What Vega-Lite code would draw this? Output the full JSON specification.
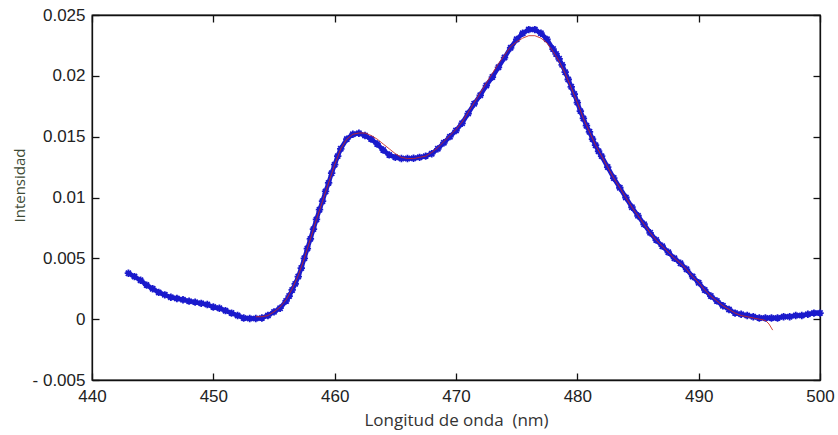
{
  "$schema": "https://vega.github.io/schema/vega-lite/v6.json",
  "width": 728,
  "height": 365,
  "autosize": {"type": "none"},
  "padding": {"left": 92, "top": 15, "right": 18, "bottom": 55},
  "background": "white",
  "view": {"stroke": "#111111", "strokeWidth": 1.3},
  "config": {
    "view": {"stroke": "#111111", "strokeWidth": 1.3},
    "axis": {
      "grid": false,
      "domain": true,
      "domainColor": "#111111",
      "domainWidth": 1.3,
      "ticks": true,
      "tickColor": "#111111",
      "tickWidth": 1.3,
      "tickSize": -7,
      "labelFlush": false,
      "labelOverlap": false,
      "labelFont": "Liberation Sans",
      "labelFontSize": 17,
      "labelColor": "#222222",
      "titleFont": "Open Sans",
      "titleFontWeight": "normal",
      "titleFontSize": 15
    }
  },
  "datasets": {
    "medido": [
      {"x": 443.0, "y": 0.00378}, {"x": 443.5, "y": 0.0035}, {"x": 444.0, "y": 0.0032}, {"x": 444.5, "y": 0.0028},
      {"x": 445.0, "y": 0.0025}, {"x": 445.5, "y": 0.0022}, {"x": 446.0, "y": 0.002}, {"x": 446.5, "y": 0.0018},
      {"x": 447.0, "y": 0.0017}, {"x": 447.5, "y": 0.0016}, {"x": 448.0, "y": 0.00148}, {"x": 448.5, "y": 0.0014},
      {"x": 449.0, "y": 0.0013}, {"x": 449.5, "y": 0.0012}, {"x": 450.0, "y": 0.001}, {"x": 450.5, "y": 0.0009},
      {"x": 451.0, "y": 0.0007}, {"x": 451.5, "y": 0.0005}, {"x": 452.0, "y": 0.0003}, {"x": 452.5, "y": 0.0001},
      {"x": 453.0, "y": 0.00005}, {"x": 453.5, "y": 0.00005}, {"x": 454.0, "y": 0.0001}, {"x": 454.5, "y": 0.0003},
      {"x": 455.0, "y": 0.0006}, {"x": 455.5, "y": 0.0009}, {"x": 456.0, "y": 0.0015}, {"x": 456.25, "y": 0.0019},
      {"x": 456.5, "y": 0.0024}, {"x": 456.75, "y": 0.0029}, {"x": 457.0, "y": 0.0035}, {"x": 457.25, "y": 0.0042},
      {"x": 457.5, "y": 0.005}, {"x": 457.75, "y": 0.0058}, {"x": 458.0, "y": 0.0066}, {"x": 458.25, "y": 0.0074},
      {"x": 458.5, "y": 0.0082}, {"x": 458.75, "y": 0.009}, {"x": 459.0, "y": 0.0097}, {"x": 459.25, "y": 0.0105},
      {"x": 459.5, "y": 0.0112}, {"x": 459.75, "y": 0.012}, {"x": 460.0, "y": 0.0127}, {"x": 460.25, "y": 0.0134},
      {"x": 460.5, "y": 0.014}, {"x": 461.0, "y": 0.0148}, {"x": 461.5, "y": 0.0152}, {"x": 462.0, "y": 0.01528},
      {"x": 462.5, "y": 0.0151}, {"x": 463.0, "y": 0.0148}, {"x": 463.5, "y": 0.0144}, {"x": 464.0, "y": 0.0139},
      {"x": 464.5, "y": 0.0135}, {"x": 465.0, "y": 0.0133}, {"x": 465.5, "y": 0.0132}, {"x": 466.0, "y": 0.0132},
      {"x": 466.5, "y": 0.01322}, {"x": 467.0, "y": 0.0133}, {"x": 467.5, "y": 0.0134}, {"x": 468.0, "y": 0.0136},
      {"x": 468.5, "y": 0.014}, {"x": 469.0, "y": 0.0145}, {"x": 469.5, "y": 0.015}, {"x": 470.0, "y": 0.0155},
      {"x": 470.5, "y": 0.0161}, {"x": 471.0, "y": 0.0169}, {"x": 471.5, "y": 0.0177}, {"x": 472.0, "y": 0.0184},
      {"x": 472.5, "y": 0.0192}, {"x": 473.0, "y": 0.0199}, {"x": 473.5, "y": 0.0207}, {"x": 474.0, "y": 0.0215},
      {"x": 474.5, "y": 0.0223}, {"x": 475.0, "y": 0.023}, {"x": 475.5, "y": 0.0235}, {"x": 476.0, "y": 0.0238},
      {"x": 476.5, "y": 0.0238}, {"x": 477.0, "y": 0.0235}, {"x": 477.5, "y": 0.023}, {"x": 478.0, "y": 0.0222},
      {"x": 478.25, "y": 0.0218}, {"x": 478.5, "y": 0.0214}, {"x": 478.75, "y": 0.0209}, {"x": 479.0, "y": 0.0203},
      {"x": 479.25, "y": 0.0197}, {"x": 479.5, "y": 0.0191}, {"x": 479.75, "y": 0.0185}, {"x": 480.0, "y": 0.0178},
      {"x": 480.25, "y": 0.0171}, {"x": 480.5, "y": 0.0165}, {"x": 480.75, "y": 0.0159}, {"x": 481.0, "y": 0.0154},
      {"x": 481.25, "y": 0.0148}, {"x": 481.5, "y": 0.0143}, {"x": 481.75, "y": 0.0138}, {"x": 482.0, "y": 0.0134},
      {"x": 482.5, "y": 0.0125}, {"x": 483.0, "y": 0.0116}, {"x": 483.5, "y": 0.0108}, {"x": 484.0, "y": 0.01},
      {"x": 484.5, "y": 0.0092}, {"x": 485.0, "y": 0.0085}, {"x": 485.5, "y": 0.0078}, {"x": 486.0, "y": 0.0071},
      {"x": 486.5, "y": 0.0065}, {"x": 487.0, "y": 0.006}, {"x": 487.5, "y": 0.0055}, {"x": 488.0, "y": 0.005},
      {"x": 488.5, "y": 0.0046}, {"x": 489.0, "y": 0.0041}, {"x": 489.5, "y": 0.0035}, {"x": 490.0, "y": 0.003},
      {"x": 490.5, "y": 0.0024}, {"x": 491.0, "y": 0.0019}, {"x": 491.5, "y": 0.0015}, {"x": 492.0, "y": 0.0011},
      {"x": 492.5, "y": 0.0008}, {"x": 493.0, "y": 0.0005}, {"x": 493.5, "y": 0.0004}, {"x": 494.0, "y": 0.0003},
      {"x": 494.5, "y": 0.0002}, {"x": 495.0, "y": 0.0001}, {"x": 495.5, "y": 0.0001}, {"x": 496.0, "y": 0.0001},
      {"x": 496.5, "y": 0.0001}, {"x": 497.0, "y": 0.0002}, {"x": 497.5, "y": 0.0002}, {"x": 498.0, "y": 0.0003},
      {"x": 498.5, "y": 0.0003}, {"x": 499.0, "y": 0.0004}, {"x": 499.5, "y": 0.0005}, {"x": 500.0, "y": 0.0005}
    ],
    "ajuste": [
      {"x": 453.5, "y": 0.0002}, {"x": 454.0, "y": 0.0002}, {"x": 454.5, "y": 0.0003}, {"x": 455.0, "y": 0.0006},
      {"x": 455.5, "y": 0.001}, {"x": 456.0, "y": 0.0016}, {"x": 456.5, "y": 0.0025}, {"x": 457.0, "y": 0.0036},
      {"x": 457.5, "y": 0.005}, {"x": 458.0, "y": 0.0066}, {"x": 458.5, "y": 0.0082}, {"x": 459.0, "y": 0.0097},
      {"x": 459.5, "y": 0.0112}, {"x": 460.0, "y": 0.0127}, {"x": 460.5, "y": 0.014}, {"x": 461.0, "y": 0.0148},
      {"x": 461.5, "y": 0.0152}, {"x": 462.0, "y": 0.0153}, {"x": 462.5, "y": 0.0153}, {"x": 463.0, "y": 0.0151},
      {"x": 463.5, "y": 0.0148}, {"x": 464.0, "y": 0.0144}, {"x": 464.5, "y": 0.014}, {"x": 465.0, "y": 0.0136},
      {"x": 465.5, "y": 0.0133}, {"x": 466.0, "y": 0.0132}, {"x": 466.5, "y": 0.0132}, {"x": 467.0, "y": 0.0133},
      {"x": 467.5, "y": 0.0134}, {"x": 468.0, "y": 0.0137}, {"x": 468.5, "y": 0.0141}, {"x": 469.0, "y": 0.0146},
      {"x": 469.5, "y": 0.0151}, {"x": 470.0, "y": 0.0156}, {"x": 470.5, "y": 0.0162}, {"x": 471.0, "y": 0.017},
      {"x": 471.5, "y": 0.0178}, {"x": 472.0, "y": 0.0186}, {"x": 472.5, "y": 0.0194}, {"x": 473.0, "y": 0.0202},
      {"x": 473.5, "y": 0.021}, {"x": 474.0, "y": 0.0217}, {"x": 474.5, "y": 0.0224}, {"x": 475.0, "y": 0.0228},
      {"x": 475.5, "y": 0.0231}, {"x": 476.0, "y": 0.0233}, {"x": 476.5, "y": 0.0233}, {"x": 477.0, "y": 0.0231},
      {"x": 477.5, "y": 0.0227}, {"x": 478.0, "y": 0.022}, {"x": 478.5, "y": 0.0212}, {"x": 479.0, "y": 0.0202},
      {"x": 479.5, "y": 0.019}, {"x": 480.0, "y": 0.0178}, {"x": 480.5, "y": 0.0165}, {"x": 481.0, "y": 0.0154},
      {"x": 481.5, "y": 0.0143}, {"x": 482.0, "y": 0.0134}, {"x": 482.5, "y": 0.0125}, {"x": 483.0, "y": 0.0116},
      {"x": 483.5, "y": 0.0108}, {"x": 484.0, "y": 0.01}, {"x": 484.5, "y": 0.0092}, {"x": 485.0, "y": 0.0085},
      {"x": 485.5, "y": 0.0078}, {"x": 486.0, "y": 0.0071}, {"x": 486.5, "y": 0.0065}, {"x": 487.0, "y": 0.006},
      {"x": 487.5, "y": 0.0055}, {"x": 488.0, "y": 0.005}, {"x": 488.5, "y": 0.0046}, {"x": 489.0, "y": 0.0041},
      {"x": 489.5, "y": 0.0035}, {"x": 490.0, "y": 0.003}, {"x": 490.5, "y": 0.0024}, {"x": 491.0, "y": 0.0019},
      {"x": 491.5, "y": 0.0015}, {"x": 492.0, "y": 0.0011}, {"x": 492.5, "y": 0.0008}, {"x": 493.0, "y": 0.0005},
      {"x": 493.5, "y": 0.0003}, {"x": 494.0, "y": 0.0002}, {"x": 494.5, "y": 0.0001}, {"x": 495.0, "y": 0.0},
      {"x": 495.5, "y": -0.0001}, {"x": 495.8, "y": -0.0004}, {"x": 496.1, "y": -0.0009}
    ]
  },
  "resolve": {"axis": {"x": "independent", "y": "independent"}},
  "layer": [
    {
      "data": {"name": "medido"},
      "mark": {"type": "line", "color": "#1a1acc", "strokeWidth": 4.5},
      "encoding": {
        "x": {
          "field": "x", "type": "quantitative",
          "scale": {"domain": [440, 500], "nice": false, "zero": false},
          "axis": {
            "orient": "bottom",
            "values": [440, 450, 460, 470, 480, 490, 500],
            "labelPadding": 15,
            "title": "Longitud de onda\u00a0 (nm)",
            "titleColor": "#333333",
            "titleFontSize": 17,
            "titlePadding": 8
          }
        },
        "y": {
          "field": "y", "type": "quantitative",
          "scale": {"domain": [-0.005, 0.025], "nice": false, "zero": false},
          "axis": {
            "orient": "left",
            "values": [-0.005, 0, 0.005, 0.01, 0.015, 0.02, 0.025],
            "labelExpr": "datum.value < 0 ? '- ' + format(-datum.value, '.3~f') : format(datum.value, '.3~f')",
            "labelPadding": 14,
            "title": "Intensidad",
            "titleColor": "#3d4a35",
            "titleY": 170,
            "titlePadding": 5
          }
        }
      }
    },
    {
      "data": {"name": "medido"},
      "mark": {
        "type": "point",
        "shape": "M-1,0L1,0M0,-1L0,1M-0.7,-0.7L0.7,0.7M-0.7,0.7L0.7,-0.7",
        "filled": false,
        "color": "#1a1acc",
        "size": 55,
        "strokeWidth": 1.8,
        "opacity": 1
      },
      "encoding": {
        "x": {
          "field": "x", "type": "quantitative",
          "scale": {"domain": [440, 500], "nice": false, "zero": false},
          "axis": {"orient": "top", "values": [440, 450, 460, 470, 480, 490, 500], "labels": false, "title": null}
        },
        "y": {
          "field": "y", "type": "quantitative",
          "scale": {"domain": [-0.005, 0.025], "nice": false, "zero": false},
          "axis": {"orient": "right", "values": [-0.005, 0, 0.005, 0.01, 0.015, 0.02, 0.025], "labels": false, "title": null}
        }
      }
    },
    {
      "data": {"name": "ajuste"},
      "mark": {"type": "line", "color": "#c8281e", "strokeWidth": 1, "opacity": 0.85},
      "encoding": {
        "x": {"field": "x", "type": "quantitative", "scale": {"domain": [440, 500], "nice": false, "zero": false}, "axis": null},
        "y": {"field": "y", "type": "quantitative", "scale": {"domain": [-0.005, 0.025], "nice": false, "zero": false}, "axis": null}
      }
    }
  ]
}
